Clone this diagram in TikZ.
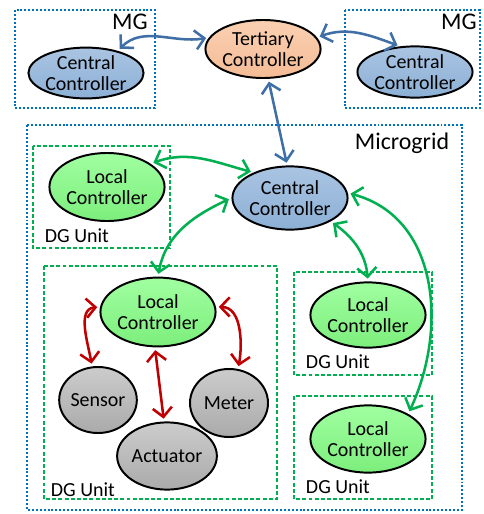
\documentclass[tikz,border=0pt]{standalone}
\usepackage{fontspec}
\setmainfont{Carlito}
\usepackage{tikz}
\usetikzlibrary{arrows.meta,shapes.geometric}

\definecolor{mgblue}{HTML}{0070C0}
\definecolor{dggreen}{HTML}{00B050}
\definecolor{arrblue}{HTML}{3F6FA6}
\definecolor{arrred}{HTML}{C00000}

\begin{document}
\begin{tikzpicture}[
    x=0.025cm, y=0.025cm,
    font=\fontsize{14.2}{14.6}\selectfont,
    every node/.style={align=center},
    ell/.style={ellipse, draw=black, line width=1.4pt, inner sep=0pt},
    cen/.style={ell, top color={rgb,255:red,170;green,196;blue,226}, bottom color={rgb,255:red,140;green,176;blue,214}},
    ter/.style={ell, top color={rgb,255:red,250;green,208;blue,178}, bottom color={rgb,255:red,244;green,188;blue,150}},
    loc/.style={ell, top color={rgb,255:red,160;green,255;blue,160}, bottom color={rgb,255:red,124;green,238;blue,124}},
    dev/.style={ell, top color={rgb,255:red,204;green,204;blue,204}, bottom color={rgb,255:red,170;green,170;blue,170}},
    mgbox/.style={draw=mgblue, line width=1.3pt, dash pattern=on 1.4pt off 1.4pt},
    dgbox/.style={draw=dggreen, line width=1.2pt, dash pattern=on 2.8pt off 1.6pt},
    lbl/.style={font=\fontsize{17}{19}\selectfont},
    arr/.style={{Straight Barb[length=2.3mm,width=4.8mm]}-{Straight Barb[length=2.3mm,width=4.8mm]}, line width=1.8pt, shorten <=2pt, shorten >=2pt},
    barr/.style={arr, draw=arrblue},
    garr/.style={arr, draw=dggreen},
    rarr/.style={arr, draw=arrred},
  ]
    \useasboundingbox (0,0) rectangle (483,-514);

    % --- frames ---
    \draw[mgbox] (15,-10) rectangle (155,-108);
    \draw[mgbox] (345,-10) rectangle (480,-108);
    \draw[mgbox] (27,-125) rectangle (462,-510);
    \draw[dgbox] (33,-146) rectangle (170,-248);
    \draw[dgbox] (44,-266) rectangle (277,-499);
    \draw[dgbox] (294,-272) rectangle (432,-375);
    \draw[dgbox] (294,-396) rectangle (432,-499);

    % --- labels ---
    \node[lbl] (mgl) at (130,-22) {MG};
    \node[lbl] (mgr) at (459,-22) {MG};
    \node[lbl] (mic) at (402,-143) {Microgrid};
    \node[anchor=west] (dga) at (40,-236) {DG Unit};
    \node[anchor=west] (dgb) at (46,-490) {DG Unit};
    \node[anchor=west] (dgc) at (301,-362) {DG Unit};
    \node[anchor=west] (dgd) at (301,-487) {DG Unit};

    % --- controllers ---
    \node[cen, minimum width=2.63cm, minimum height=1.27cm] (ccl) at (86,-73) {Central\\Controller};
    \node[ter, minimum width=2.58cm, minimum height=1.45cm] (tc) at (263,-49) {Tertiary\\Controller};
    \node[cen, minimum width=2.63cm, minimum height=1.28cm] (ccr) at (415,-72) {Central\\Controller};
    \node[cen, minimum width=2.6cm, minimum height=1.58cm] (cc) at (290,-198) {Central\\Controller};
    \node[loc, minimum width=2.63cm, minimum height=1.7cm] (lca) at (107,-187) {Local\\Controller};
    \node[loc, minimum width=2.6cm, minimum height=1.72cm] (lcb) at (158,-312) {Local\\Controller};
    \node[loc, minimum width=2.58cm, minimum height=1.63cm] (lcc) at (368,-315) {Local\\Controller};
    \node[loc, minimum width=2.58cm, minimum height=1.68cm] (lcd) at (368,-439) {Local\\Controller};

    % --- devices ---
    \node[dev, minimum width=1.93cm, minimum height=1.65cm] (sen) at (98,-400) {Sensor};
    \node[dev, minimum width=1.95cm, minimum height=1.7cm] (met) at (229,-403) {Meter};
    \node[dev, minimum width=1.98cm, minimum height=1.68cm] (act) at (167,-456) {Actuator};

    % --- tertiary links ---
    \draw[barr] (ccl.35) to[out=45,in=190] (tc.168);
    \draw[barr] (tc.12) to[out=20,in=160] (ccr.120);
    \draw[barr] (tc.280) -- (cc.95);

    % --- microgrid links ---
    \draw[garr] (lca.28) to[out=20,in=165] (cc.145);
    \draw[garr] (lcb.north) to[out=80,in=205] (cc.180);
    \draw[garr] (cc.-30) to[out=-35,in=95] (lcc.north);
    \draw[garr] (cc.5) to[out=-15,in=65,looseness=1.05] (lcd.32);

    % --- unit links ---
    \draw[rarr] (lcb.175) to[out=185,in=100] (sen.100);
    \draw[rarr] (lcb.265) -- (act.95);
    \draw[rarr] (lcb.5) to[out=0,in=80] (met.75);
\end{tikzpicture}
\end{document}
